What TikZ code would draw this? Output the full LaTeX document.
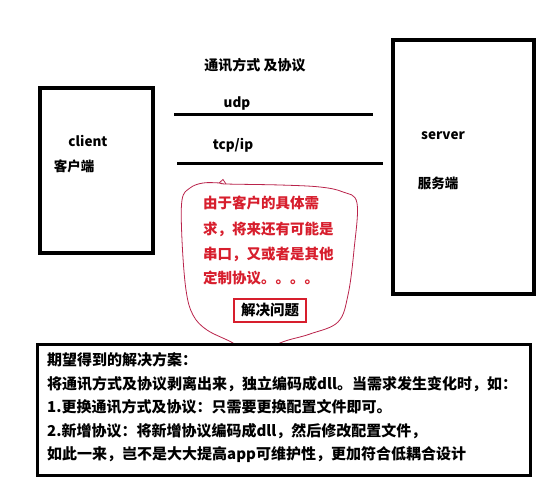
\documentclass[tikz,border=0pt]{standalone}
\usepackage{fontspec}
\setmainfont{DejaVu Sans}
\newfontfamily\cjk{Noto Sans CJK SC}
\definecolor{notered}{RGB}{215,30,45}
\definecolor{cloudred}{RGB}{185,35,75}

\begin{document}
\begin{tikzpicture}[x=1pt, y=-1pt]
    \tikzstyle{end box} = [draw=black, line width=4pt, minimum width=113pt]
    \tikzstyle{end label} = [inner sep=0pt, font=\cjk\bfseries\fontsize{13.5}{15}\selectfont]
    \tikzstyle{link line} = [draw=black, line width=3pt]
    \tikzstyle{note text} = [inner sep=0pt, anchor=west, text=notered, font=\cjk\bfseries\fontsize{14.5}{15}\selectfont]
    \tikzstyle{plan box} = [draw=black, fill=white, line width=3pt, inner sep=0pt, minimum width=493pt, minimum height=131pt]
\useasboundingbox (0,0) rectangle (547,487);
% client and server
\node[end box, minimum height=165pt] (client) at (96.5, 170.5) {};
\node[end box, minimum width=141pt, minimum height=254pt] (server) at (463.5, 167) {};
\node[end label] (clientname) at (88, 141) {client};
\node[end label] (clientcn) at (74, 166) {客户端};
\node[end label] (servername) at (443, 136) {server};
\node[end label] (servercn) at (438, 183) {服务端};
% protocols
\node[end label, font=\cjk\bfseries\fontsize{14}{15}\selectfont] (title) at (255, 65) {通讯方式 及协议};
\node[end label] (udp) at (237, 104) {udp};
\node[end label] (tcp) at (233, 145) {tcp/ip};
\coordinate (udp a) at (174, 115);
\coordinate (udp b) at (373, 115);
\coordinate (tcp a) at (177, 163);
\coordinate (tcp b) at (383, 163);
\draw[link line] (udp a) -- (udp b);
\draw[link line] (tcp a) -- (tcp b);
% cloud
\draw[cloudred, line width=0.8pt] plot[smooth cycle, tension=0.6] coordinates {
    (226,184) (280,185) (320,187) (343,192) (357,203) (354,250) (348,295)
    (338,322) (310,334) (280,343) (256,358) (233,343) (207,330) (193,315)
    (186,290) (182,240) (182,200) (190,188) (203,183) (220,183)};
\draw[cloudred, line width=0.8pt] (219,183) -- (223,179.5) -- (226,184);
\node[note text] (note1) at (203, 203) {由于客户的具体需};
\node[note text] (note2) at (203, 229) {求，将来还有可能是};
\node[note text] (note3) at (203, 254) {串口，又或者是其他};
\node[note text] (note4) at (203, 278) {定制协议。。。。};
\node[draw=notered, line width=2pt, minimum width=72pt, minimum height=23pt, inner sep=0pt,
      font=\cjk\bfseries\fontsize{14.5}{15}\selectfont] (solve) at (270, 310.5) {解决问题};
% expected solution
\node[plan box] (plan) at (284, 410) {};
\node[inner sep=0pt, anchor=west, align=left, font=\cjk\bfseries\fontsize{15}{23.5}\selectfont] (plantext) at (47, 408) {期望得到的解决方案：\\
将通讯方式及协议剥离出来，独立编码成dll。当需求发生变化时，如：\\
1.更换通讯方式及协议：只需要更换配置文件即可。\\
2.新增协议：将新增协议编码成dll，然后修改配置文件，\\
如此一来，岂不是大大提高app可维护性，更加符合低耦合设计};
\end{tikzpicture}
\end{document}
